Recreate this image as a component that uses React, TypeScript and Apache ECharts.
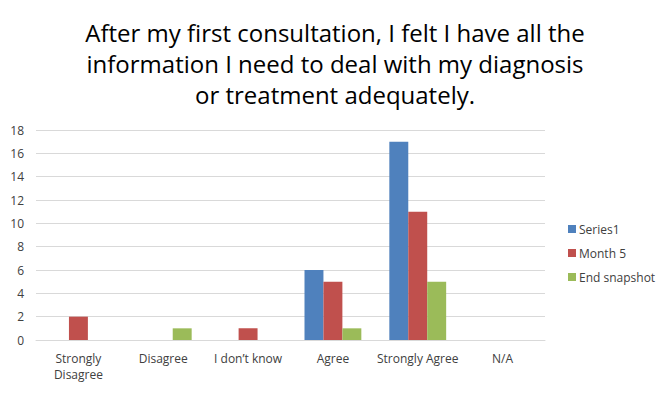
import React, { useEffect, useRef } from "react";
import * as echarts from "echarts";

const categories = ["Strongly\nDisagree", "Disagree", "I don\u2019t know", "Agree", "Strongly Agree", "N/A"];
const series1 = [0, 0, 0, 6, 17, 0];
const month5 = [2, 0, 1, 5, 11, 0];
const endSnapshot = [0, 1, 0, 1, 5, 0];
const seriesNames = ["Series1", "Month 5", "End snapshot"];
const colors = ["#4F81BD", "#C0504D", "#9BBB59"];
const titleText =
  "After my first consultation, I felt I have all the\ninformation I need to deal with my diagnosis\nor treatment adequately.";

export default function App() {
  const ref = useRef<HTMLDivElement>(null);
  useEffect(() => {
    if (!ref.current) return;
    const chart = echarts.init(ref.current, null, { renderer: "svg" });
    const font = "Open Sans, sans-serif";
    chart.setOption({
      animation: false,
      backgroundColor: "#ffffff",
      color: colors,
      title: {
        text: titleText,
        left: "center",
        top: 12,
        textStyle: {
          fontFamily: font,
          fontSize: 24,
          fontWeight: "normal",
          color: "#000000",
          lineHeight: 31,
        },
      },
      legend: {
        orient: "vertical",
        left: 563,
        top: 218,
        itemWidth: 8,
        itemHeight: 8,
        itemGap: 12,
        icon: "rect",
        textStyle: { fontFamily: font, fontSize: 12, color: "#404040", padding: [0, 0, 0, -2] },
        data: seriesNames,
      },
      grid: { left: 36, right: 125, top: 130, bottom: 53, containLabel: false },
      xAxis: {
        type: "category",
        data: categories,
        axisLine: { lineStyle: { color: "#d9d9d9" } },
        axisTick: { show: false },
        axisLabel: {
          interval: 0,
          margin: 10,
          fontFamily: font,
          fontSize: 12,
          color: "#404040",
          lineHeight: 16,
        },
      },
      yAxis: {
        type: "value",
        min: 0,
        max: 18,
        interval: 2,
        axisLine: { show: false },
        axisTick: { show: false },
        splitLine: { lineStyle: { color: "#d9d9d9" } },
        axisLabel: { fontFamily: font, fontSize: 12, color: "#404040", margin: 12 },
      },
      series: [
        { name: seriesNames[0], type: "bar", data: series1, barGap: "0%", barCategoryGap: "33%" },
        { name: seriesNames[1], type: "bar", data: month5, barGap: "0%", barCategoryGap: "33%" },
        { name: seriesNames[2], type: "bar", data: endSnapshot, barGap: "0%", barCategoryGap: "33%" },
      ],
    });
    return () => chart.dispose();
  }, []);
  return <div ref={ref} style={{ width: 670, height: 393, position: "absolute", left: 0, top: 0 }} />;
}
